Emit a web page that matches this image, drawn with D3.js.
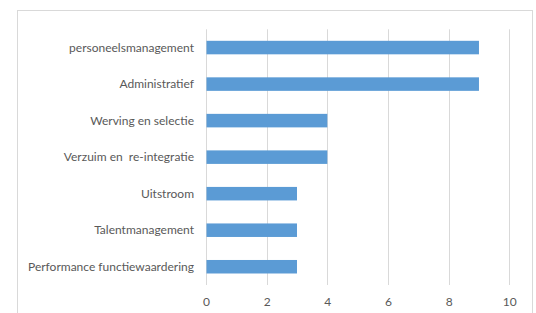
<!DOCTYPE html>
<html>
<head>
<meta charset="utf-8">
<script src="https://cdn.jsdelivr.net/npm/d3@7"></script>
<style>
html,body{margin:0;padding:0;background:#fff;}
svg{display:block;}
svg text{white-space:pre;}
</style>
</head>
<body>
<svg id="chart" width="536" height="313"></svg>
<script>
const categories = ["personeelsmanagement","Administratief","Werving en selectie","Verzuim en  re-integratie","Uitstroom","Talentmanagement","Performance functiewaardering"];
const values = [9,9,4,4,3,3,3];
const xTicks = [0,2,4,6,8,10];

const svg = d3.select("#chart");
const font = "Lato, 'Open Sans', sans-serif";
// container border
svg.append("rect").attr("x",17.5).attr("y",10.5).attr("width",515).attr("height",320)
  .attr("fill","#fff").attr("stroke","#d9d9d9").attr("stroke-width",1);

const x = d3.scaleLinear().domain([0,10]).range([206,509.3]);
const y = d3.scaleBand().domain(categories).range([29.3,285]).paddingInner(0.63).paddingOuter(0.315);

// gridlines
svg.append("g").selectAll("line").data(xTicks).join("line")
  .attr("x1",d=>Math.round(x(d))+0.5).attr("x2",d=>Math.round(x(d))+0.5)
  .attr("y1",29.3).attr("y2",285)
  .attr("stroke","#d9d9d9").attr("stroke-width",1);

// bars
svg.append("g").selectAll("rect").data(values).join("rect")
  .attr("x",x(0)+0.5).attr("y",(d,i)=>y(categories[i]))
  .attr("width",d=>x(d)-x(0)-0.5).attr("height",y.bandwidth())
  .attr("fill","#5b9bd5");

// x axis labels
const xAxis = d3.axisBottom(x).tickValues(xTicks).tickSize(0).tickPadding(0);
const gx = svg.append("g").attr("transform","translate(0,297)").call(xAxis);
gx.select(".domain").remove();
gx.selectAll("text").attr("fill","#595959").style("font-family",font).style("font-size","12px");

// y axis labels
const yAxis = d3.axisLeft(y).tickSize(0).tickPadding(0);
const gy = svg.append("g").attr("transform","translate(194,0)").call(yAxis);
gy.select(".domain").remove();
gy.selectAll("text").attr("fill","#595959").style("font-family",font).style("font-size","12px")
  .attr("dy","0.35em");
</script>
</body>
</html>
